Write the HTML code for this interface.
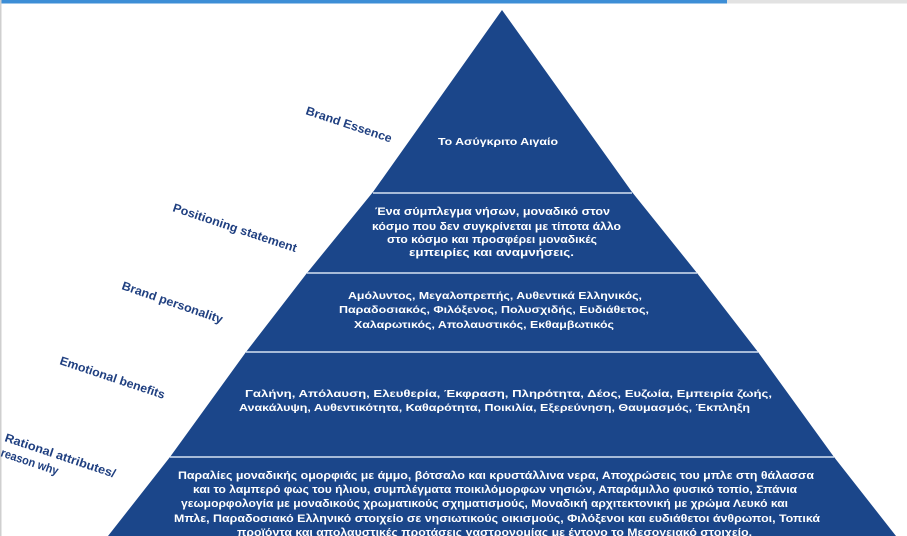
<!DOCTYPE html>
<html><head><meta charset="utf-8"><style>
html,body{margin:0;padding:0;background:#fff;}
svg{display:block;}
text{font-family:"Liberation Sans",Arial,sans-serif;}
.w{fill:#fff;font-weight:bold;}
.l{fill:#1f3f80;font-size:12px;font-weight:bold;}
</style></head><body>
<svg width="907" height="536" viewBox="0 0 907 536" xmlns="http://www.w3.org/2000/svg">
<rect x="0" y="0" width="907" height="536" fill="#fff"/>
<rect x="0" y="0" width="727" height="3.5" fill="#3d8ed6"/>
<rect x="727" y="0" width="180" height="3.5" fill="#e2e2e2"/>
<rect x="0" y="0" width="1.5" height="536" fill="#cfcfcf"/>
<polygon points="502,10 632,192 697,273 758,352 834,457 896,536 108,536 170,457 246,352 307,273 373,192" fill="#1b468a"/>
<g stroke="#d6e2f2" stroke-width="1.5">
<line x1="373" y1="193" x2="632" y2="193"/>
<line x1="307" y1="273" x2="697" y2="273"/>
<line x1="246" y1="352" x2="758" y2="352"/>
<line x1="170" y1="457" x2="834" y2="457"/>
</g>
<g class="w">
<text x="438" y="145" font-size="10.5" textLength="120" lengthAdjust="spacingAndGlyphs">Το Ασύγκριτο Αιγαίο</text>
<text x="375" y="215" font-size="11" textLength="235" lengthAdjust="spacingAndGlyphs">Ένα σύμπλεγμα νήσων, μοναδικό στον</text>
<text x="372" y="230" font-size="11" textLength="249" lengthAdjust="spacingAndGlyphs">κόσμο που δεν συγκρίνεται με τίποτα  άλλο</text>
<text x="387" y="243" font-size="11" textLength="210" lengthAdjust="spacingAndGlyphs">στο κόσμο και προσφέρει μοναδικές</text>
<text x="409" y="256" font-size="11" textLength="165" lengthAdjust="spacingAndGlyphs">εμπειρίες και αναμνήσεις.</text>
<text x="348" y="299" font-size="10.5" textLength="294" lengthAdjust="spacingAndGlyphs">Αμόλυντος, Μεγαλοπρεπής, Αυθεντικά  Ελληνικός,</text>
<text x="339" y="313" font-size="10.5" textLength="310" lengthAdjust="spacingAndGlyphs">Παραδοσιακός, Φιλόξενος,  Πολυσχιδής, Ευδιάθετος,</text>
<text x="354" y="328" font-size="10.5" textLength="260" lengthAdjust="spacingAndGlyphs">Χαλαρωτικός,  Απολαυστικός, Εκθαμβωτικός</text>
<text x="245" y="397" font-size="10.5" textLength="527" lengthAdjust="spacingAndGlyphs">Γαλήνη, Απόλαυση, Ελευθερία, Έκφραση, Πληρότητα, Δέος, Ευζωία, Εμπειρία  ζωής,</text>
<text x="239" y="411" font-size="10.5" textLength="511" lengthAdjust="spacingAndGlyphs">Ανακάλυψη, Αυθεντικότητα, Καθαρότητα, Ποικιλία, Εξερεύνηση,  Θαυμασμός, Έκπληξη</text>
<text x="178" y="479" font-size="11" textLength="636" lengthAdjust="spacingAndGlyphs">Παραλίες μοναδικής ομορφιάς με άμμο, βότσαλο και κρυστάλλινα νερα, Αποχρώσεις του μπλε στη θάλασσα</text>
<text x="193" y="493" font-size="11" textLength="604" lengthAdjust="spacingAndGlyphs">και το λαμπερό φως του ήλιου, συμπλέγματα ποικιλόμορφων νησιών, Απαράμιλλο φυσικό τοπίο, Σπάνια</text>
<text x="181" y="507" font-size="11" textLength="607" lengthAdjust="spacingAndGlyphs">γεωμορφολογία με μοναδικούς χρωματικούς σχηματισμούς, Μοναδική αρχιτεκτονική με χρώμα Λευκό και</text>
<text x="174" y="522" font-size="11" textLength="646" lengthAdjust="spacingAndGlyphs">Μπλε, Παραδοσιακό Ελληνικό στοιχείο σε νησιωτικούς οικισμούς, Φιλόξενοι και ευδιάθετοι άνθρωποι, Τοπικά</text>
<text x="237" y="536" font-size="11" textLength="515" lengthAdjust="spacingAndGlyphs">προϊόντα και απολαυστικές προτάσεις γαστρονομίας με έντονο το Μεσογειακό στοιχείο.</text>
</g>
<g class="l">
<text transform="translate(305,114) rotate(18.5)" textLength="90" lengthAdjust="spacingAndGlyphs">Brand Essence</text>
<text transform="translate(172,211) rotate(18.5)" textLength="130" lengthAdjust="spacingAndGlyphs">Positioning statement</text>
<text transform="translate(121,289) rotate(19)" textLength="106" lengthAdjust="spacingAndGlyphs">Brand personality</text>
<text transform="translate(59,364) rotate(18.5)" textLength="110" lengthAdjust="spacingAndGlyphs">Emotional benefits</text>
<text transform="translate(4,441) rotate(18.5)" textLength="116" lengthAdjust="spacingAndGlyphs">Rational attributes/</text>
<text transform="translate(0,456) rotate(18.5)" textLength="60" lengthAdjust="spacingAndGlyphs">reason why</text>
</g>
</svg>
</body></html>
